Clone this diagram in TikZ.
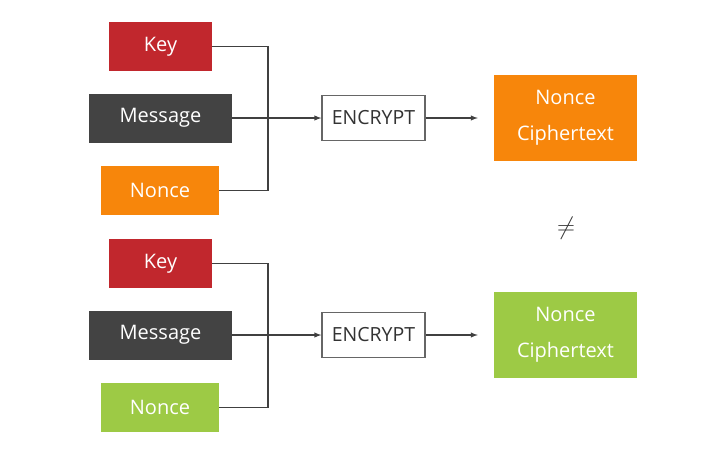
\documentclass[tikz,border=0pt]{standalone}
\usepackage{fontspec}
\setmainfont{Open Sans}
\usepackage{xcolor}
\usetikzlibrary{arrows,shapes,positioning}
\definecolor{keyred}{HTML}{C1272D}
\definecolor{msggray}{HTML}{434343}
\definecolor{nonceorange}{HTML}{F7860B}
\definecolor{noncegreen}{HTML}{9DCA45}
\begin{document}
\begin{tikzpicture}[x=1pt,y=-1pt]
		\tikzstyle{input}=[draw=none,text=white,minimum height=49pt,inner sep=0pt,font=\fontsize{20}{24}\selectfont]
		\tikzstyle{encrypt}=[draw=black!60,line width=1.3pt,fill=white,minimum width=103pt,minimum height=45pt,inner sep=0pt,font=\fontsize{19.5}{23}\selectfont,text=black!80]
		\tikzstyle{output}=[input,minimum width=143pt,minimum height=86pt,align=center,font=\fontsize{20}{36}\selectfont]
		\tikzstyle{wire}=[line width=1.4pt,draw=black!75]
		\tikzstyle{arrow}=[wire,-latex]

		\useasboundingbox (0,0) rectangle (720,456);

		\begin{scope}
			\node [input,fill=keyred,minimum width=103pt] (key1) at (160.5,46.5) {Key};
			\node [input,fill=msggray,minimum width=143pt] (msg1) at (160.5,118) {Message};
			\node [input,fill=nonceorange,minimum width=118pt] (nonce1) at (160,190.5) {Nonce};
			\node [encrypt] (enc1) at (373.5,118) {ENCRYPT};
			\node [output,fill=nonceorange] (out1) at (565.5,118) {Nonce\\Ciphertext};
			\coordinate (join1) at (268,118);
		\end{scope}

		\begin{scope}[yshift=-217pt]
			\node [input,fill=keyred,minimum width=103pt] (key2) at (160.5,46.5) {Key};
			\node [input,fill=msggray,minimum width=143pt] (msg2) at (160.5,118) {Message};
			\node [input,fill=noncegreen,minimum width=118pt] (nonce2) at (160,190.5) {Nonce};
			\node [encrypt] (enc2) at (373.5,118) {ENCRYPT};
			\node [output,fill=noncegreen] (out2) at (565.5,118) {Nonce\\Ciphertext};
			\coordinate (join2) at (268,118);
		\end{scope}

	\node (neq) at (566,228) [font=\fontsize{26}{28}\selectfont,text=black!80] {$\neq$};

	\draw [wire] (key1.east) -| (join1) |- (nonce1.east);
	\draw [arrow] (msg1.east) -- (enc1.west);
	\draw [arrow] (enc1.east) -- ([xshift=-16pt]out1.west);

	\draw [wire] (key2.east) -| (join2) |- (nonce2.east);
	\draw [arrow] (msg2.east) -- (enc2.west);
	\draw [arrow] (enc2.east) -- ([xshift=-16pt]out2.west);
\end{tikzpicture}
\end{document}
